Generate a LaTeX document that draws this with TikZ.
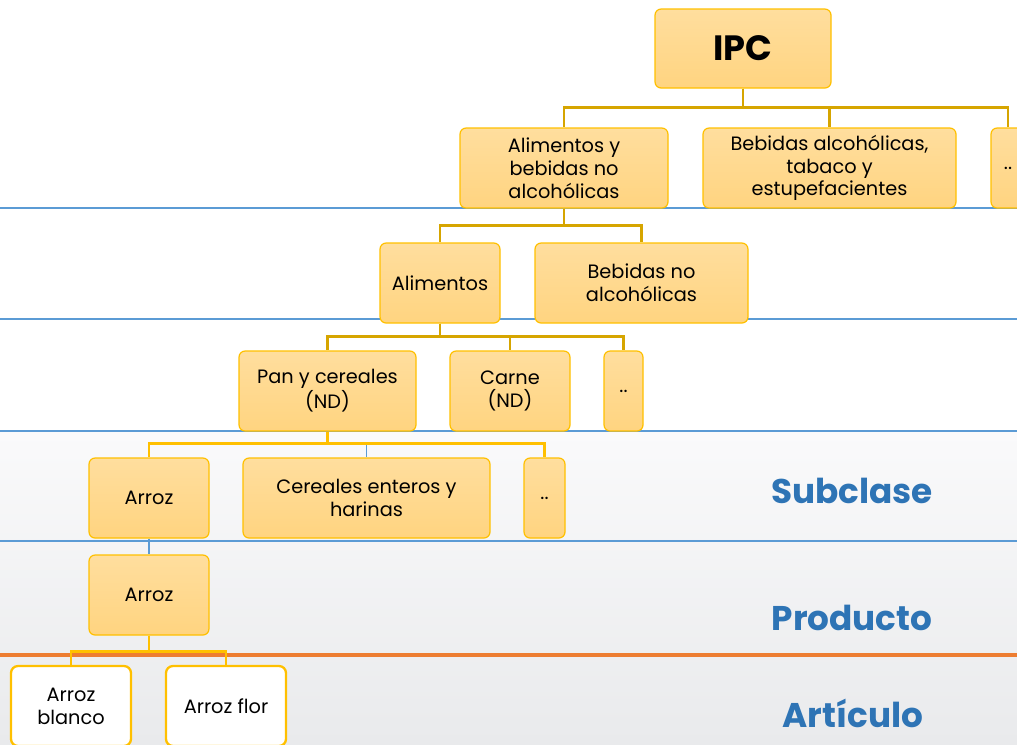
\documentclass[tikz,border=0pt]{standalone}
\usepackage{fontspec}
\setmainfont{Poppins}
\usetikzlibrary{positioning}
\definecolor{oro}{RGB}{255,192,0}
\definecolor{orooscuro}{RGB}{214,165,0}
\definecolor{relleno1}{RGB}{255,222,158}
\definecolor{relleno2}{RGB}{255,212,128}
\definecolor{azulnivel}{RGB}{46,116,181}
\definecolor{lineaazul}{RGB}{91,155,213}
\definecolor{naranja}{RGB}{237,125,49}
\definecolor{fondo1}{RGB}{250,250,251}
\definecolor{fondo2}{RGB}{233,234,236}
\tikzset{
	caja/.style={draw=oro, line width=0.7pt, rounded corners=3.5pt, top color=relleno1, bottom color=relleno2, minimum height=1.6cm, align=center, inner sep=1pt, font=\fontsize{11}{13}\selectfont},
	cajab/.style={draw=oro, line width=1.3pt, rounded corners=4pt, fill=white, minimum height=1.6cm, minimum width=2.4cm, align=center, inner sep=1pt, font=\fontsize{11}{13}\selectfont},
	enlace/.style={orooscuro, line width=1.5pt},
	enlaceb/.style={oro, line width=1.6pt},
	nivel/.style={azulnivel, font=\fontsize{19.5}{22}\selectfont\bfseries},
}

\begin{document}
\begin{tikzpicture}
	\useasboundingbox (0,0) rectangle (20.34,-14.88);
	% fondo y niveles
	\shade[top color=fondo1, bottom color=fondo2] (0,-8.62) rectangle (20.34,-14.88);
	\foreach \y in {4.16,6.38,8.62,10.82}
		\draw[lineaazul, line width=0.7pt] (0,-\y) -- (20.34,-\y);
	\draw[naranja, line width=2pt] (0,-13.10) -- (20.34,-13.10);
	% arbol
	\node[caja, minimum width=3.52cm, minimum height=1.58cm, font=\fontsize{20}{22}\selectfont\bfseries] (ipc) at (14.86,-0.97) {IPC};
	\node[caja, minimum width=4.16cm] (abn) at (11.28,-3.36) {Alimentos y\\bebidas no\\alcohólicas};
	\node[caja, minimum width=5.06cm] (bat) at (16.59,-3.36) {Bebidas alcohólicas,\\tabaco y\\estupefacientes};
	\node[caja, minimum width=0.68cm] (pt1) at (20.16,-3.36) {..};
	\node[caja, minimum width=2.4cm] (ali) at (8.80,-5.66) {Alimentos};
	\node[caja, minimum width=4.26cm] (bna) at (12.83,-5.66) {Bebidas no\\alcohólicas};
	\node[caja, minimum width=3.54cm] (pan) at (6.55,-7.82) {Pan y cereales\\(ND)};
	\node[caja, minimum width=2.4cm] (car) at (10.20,-7.82) {Carne\\(ND)};
	\node[caja, minimum width=0.78cm] (pt2) at (12.47,-7.82) {..};
	\node[caja, minimum width=2.4cm] (arz) at (2.98,-9.96) {Arroz};
	\node[caja, minimum width=4.94cm] (cer) at (7.33,-9.96) {Cereales enteros y\\harinas};
	\node[caja, minimum width=0.82cm] (pt3) at (10.89,-9.96) {..};
	\node[caja, minimum width=2.4cm] (arp) at (2.98,-11.90) {Arroz};
	\node[cajab] (arb) at (1.42,-14.12) {Arroz\\blanco};
	\node[cajab] (arf) at (4.52,-14.12) {Arroz flor};
	% enlaces
	\draw[enlace] (ipc.south) -- ++(0,-0.38) -| (abn.north);
	\draw[enlace] (ipc.south) -- ++(0,-0.38) -| (bat.north);
	\draw[enlace] (ipc.south) -- ++(0,-0.38) -| (pt1.north);
	\draw[enlace] (abn.south) -- ++(0,-0.34) -| (ali.north);
	\draw[enlace] (abn.south) -- ++(0,-0.34) -| (bna.north);
	\draw[enlace] (ali.south) -- ++(0,-0.26) -| (pan.north);
	\draw[enlace] (ali.south) -- ++(0,-0.26) -| (car.north);
	\draw[enlace] (ali.south) -- ++(0,-0.26) -| (pt2.north);
	\draw[lineaazul, line width=1pt] (pan.south) -- ++(0,-0.24) -| (cer.north);
	\draw[enlaceb] (pan.south) -- ++(0,-0.24) -| (arz.north);
	\draw[enlaceb] (pan.south) -- ++(0,-0.24) -| (pt3.north);
	\draw[lineaazul, line width=1pt] (arz.south) -- (arp.north);
	\draw[enlaceb] (arp.south) -- ++(0,-0.32) -| (arb.north);
	\draw[enlaceb] (arp.south) -- ++(0,-0.32) -| (arf.north);
	% etiquetas de nivel
	\node[nivel] (sub) at (17.04,-9.82) {Subclase};
	\node[nivel] (pro) at (17.04,-12.36) {Producto};
	\node[nivel] (art) at (17.06,-14.26) {Artículo};
\end{tikzpicture}
\end{document}
